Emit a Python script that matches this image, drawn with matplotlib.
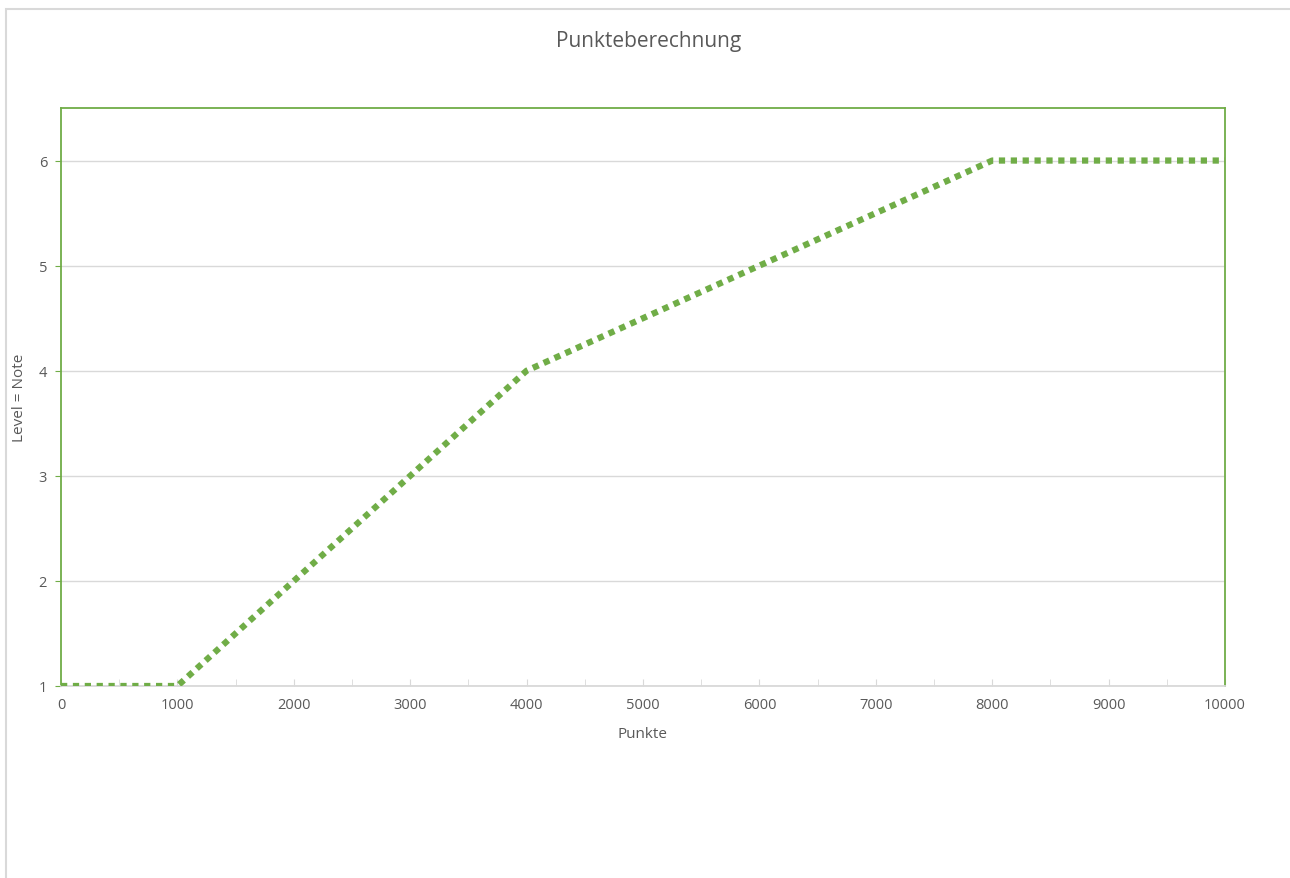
import matplotlib
matplotlib.use("Agg")
import matplotlib.pyplot as plt
from matplotlib.patches import Rectangle
from matplotlib.ticker import MultipleLocator

# data
punkte = [0, 1000, 2000, 3000, 4000, 6000, 8000, 10000]
level = [1, 1, 2, 3, 4, 5, 6, 6]
y_ticks = [1, 2, 3, 4, 5, 6]
x_ticks = [0, 1000, 2000, 3000, 4000, 5000, 6000, 7000, 8000, 9000, 10000]

green = "#70AD47"
txt = "#595959"
plt.rcParams['font.family'] = ['Open Sans', 'DejaVu Sans']

W, H = 1290, 879
fig = plt.figure(figsize=(W / 100, H / 100), dpi=100)
# chart frame, cut off at right and bottom like the screenshot
fig.patches.append(Rectangle((6 / W, -0.1), 1.2, 1.1 - 10 / H, transform=fig.transFigure,
                             fill=False, edgecolor="#d9d9d9", lw=1.5))

ax = fig.add_axes([61 / W, (H - 687) / H, (1225 - 61) / W, (687 - 109) / H])
ax.plot(punkte, level, color=green, lw=4.5, linestyle=(0, (1, 0.9)),
        dash_capstyle="butt", zorder=3)

ax.set_xlim(0, 10000)
ax.set_ylim(1, 6.5)
ax.set_yticks(y_ticks)
ax.set_xticks(x_ticks)
ax.xaxis.set_minor_locator(MultipleLocator(500))
ax.grid(axis="y", color="#d9d9d9", lw=1)
ax.set_axisbelow(True)

for s in ["top", "left", "right"]:
    ax.spines[s].set_color(green)
    ax.spines[s].set_linewidth(1.3)
ax.spines["bottom"].set_color("#d9d9d9")
ax.spines["bottom"].set_linewidth(1.3)

ax.tick_params(axis="x", which="both", direction="in", length=5, color="#d9d9d9",
               labelsize=10.5, labelcolor=txt, pad=8)
ax.tick_params(axis="y", direction="out", length=4, color=green, labelsize=10.5,
               labelcolor=txt, pad=6)

ax.set_xlabel("Punkte", fontsize=11, color=txt, labelpad=10)
fig.text(20 / W, 1 - 398 / H, "Level = Note", rotation=90, ha="center", va="center",
         fontsize=11, color=txt)
fig.text(649 / W, 1 - 42 / H, "Punkteberechnung", ha="center", va="center",
         fontsize=15, color=txt)

fig.savefig("out.png", dpi=100, facecolor="white")
